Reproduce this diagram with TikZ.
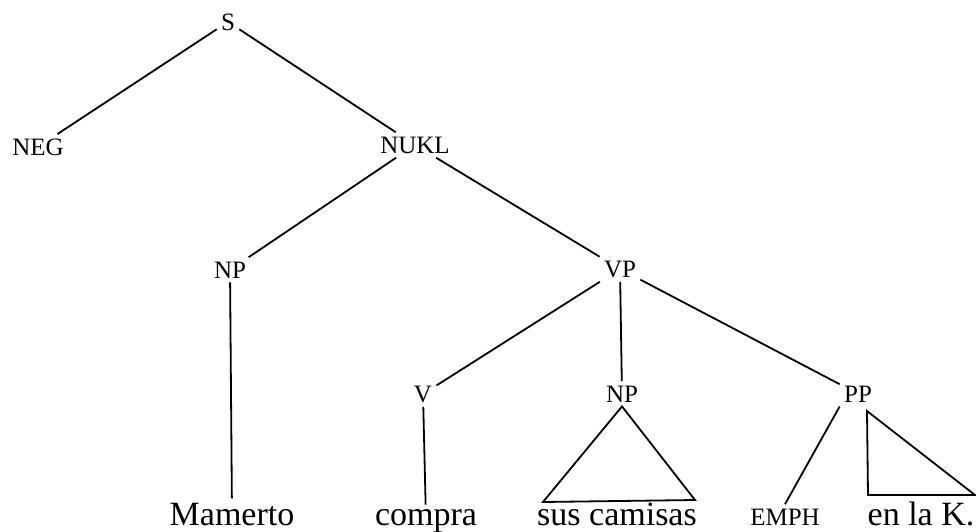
\documentclass[tikz,border=0pt]{standalone}
\usepackage{fontspec}
\setmainfont{Liberation Serif}
\begin{document}
\begin{tikzpicture}[x=0.5pt,y=-0.5pt,
  cat/.style={font=\fontsize{12.5}{15}\selectfont, anchor=base, inner sep=2pt},
  word/.style={font=\fontsize{17}{20}\selectfont, anchor=base, inner xsep=0pt, inner ysep=2pt},
  branch/.style={line width=0.9pt}]
\useasboundingbox (0,0) rectangle (976,531);
% category nodes
\node[cat] (S)    at (228,30)  {S};
\node[cat] (NEG)  at (38,155)  {NEG};
\node[cat] (NUKL) at (415,153) {NUKL};
\node[cat] (NPa)  at (230,278) {NP};
\node[cat] (VP)   at (620,277) {VP};
\node[cat] (V)    at (423,402) {V};
\node[cat] (NPb)  at (622,402) {NP};
\node[cat] (PP)   at (858,402) {PP};
% words
\node[word] (mam)  at (232,525) {Mamerto};
\node[word] (com)  at (426,525) {compra};
\node[word] (sus)  at (617,525) {sus camisas};
\node[cat]  (emph) at (785,525) {EMPH};
\node[word] (enla) at (921,525) {en la K.};
% branches
\draw[branch] (S) -- (NEG);
\draw[branch] (S) -- (NUKL);
\draw[branch] (NUKL) -- (NPa);
\draw[branch] (NUKL) -- (VP);
\draw[branch] (NPa) -- (mam);
\draw[branch] (VP) -- (V);
\draw[branch] (VP) -- (NPb);
\draw[branch] (VP) -- (PP);
\draw[branch] (V) -- (com);
\draw[branch] (PP.south west) -- (emph.north);
% triangles
\coordinate (tla) at (543,502);
\coordinate (tlb) at (695,500);
\draw[branch, line join=miter] (NPb.south) -- (tla) -- (tlb) -- cycle;
\coordinate (tra) at (867,411);
\coordinate (trb) at (868,495);
\coordinate (trc) at (975,495);
\draw[branch, line join=miter] (tra) -- (trb) -- (trc) -- cycle;
\end{tikzpicture}
\end{document}
